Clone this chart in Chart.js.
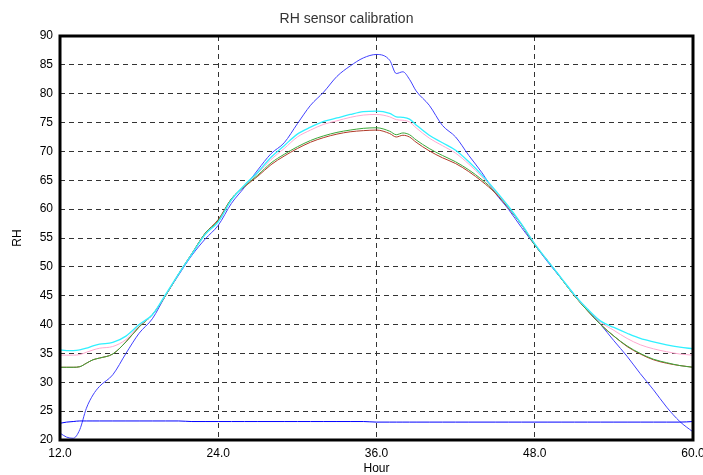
<!DOCTYPE html>
<html>
<head>
<meta charset="utf-8">
<script src="https://cdn.jsdelivr.net/npm/chart.js@4"></script>
<style>
  body { margin: 0; background: #fff; }
  #wrap { width: 703px; height: 475px; }
</style>
</head>
<body>
<div id="wrap"><canvas id="rh"></canvas></div>
<script>
// hours since start, shared by every trace
const hours = [12, 12.5, 13, 13.5, 14, 14.5, 15, 16, 17, 18, 19, 20, 21, 22, 23, 24, 25, 26, 27, 28, 29, 30,
  31, 32, 33, 34, 35, 36, 37, 37.5, 38, 38.5, 39, 40, 41, 42, 43, 44, 45, 46, 47, 48, 49, 50,
  51, 52, 53, 54, 55, 56, 57, 58, 59, 60];

const rawSensor = [21.2, 20.5, 20.3, 21.8, 25.5, 27.8, 29.3, 31.3, 35.0, 38.5, 41.0, 45.0, 48.6, 52.0, 54.8, 57.2, 61.0, 63.8, 66.8, 69.6, 71.5, 74.8,
  78.0, 80.3, 83.0, 84.8, 86.2, 86.8, 85.8, 83.5, 83.8, 82.5, 80.5, 78.0, 74.5, 72.5, 69.3, 66.3, 62.8, 60.0, 56.8, 53.8, 50.8, 48.0,
  45.2, 42.5, 40.0, 37.2, 34.5, 31.5, 28.7, 25.7, 23.2, 21.4];

const cyanTrace = [35.6, 35.5, 35.5, 35.6, 35.9, 36.3, 36.6, 36.9, 38.0, 40.0, 41.7, 45.2, 48.8, 52.2, 55.6, 57.8, 61.6, 64.2, 66.4, 69.0, 71.0, 73.0,
  74.2, 75.2, 75.8, 76.4, 76.9, 77.0, 76.6, 76.0, 75.9, 75.6, 74.6, 72.8, 71.5, 70.2, 68.2, 65.9, 63.3, 60.5, 57.4, 54.0, 51.0, 48.1,
  45.2, 42.7, 40.6, 39.5, 38.5, 37.6, 37.0, 36.5, 36.1, 35.8];

const pinkTrace = [34.7, 34.7, 34.7, 34.8, 35.2, 35.6, 35.9, 36.2, 37.4, 39.8, 41.7, 45.1, 48.8, 52.2, 55.6, 57.8, 61.6, 64.1, 66.2, 68.6, 70.5, 72.5,
  73.7, 74.7, 75.3, 75.9, 76.3, 76.4, 76.0, 75.5, 75.4, 75.1, 74.1, 72.3, 71.0, 69.7, 67.8, 65.6, 63.1, 60.4, 57.4, 54.0, 51.0, 48.1,
  45.1, 42.6, 40.4, 39.0, 37.6, 36.5, 35.8, 35.3, 34.9, 34.7];

const greenTrace = [32.6, 32.6, 32.6, 32.7, 33.3, 33.9, 34.2, 34.9, 37.0, 39.6, 41.7, 45.0, 48.8, 52.3, 55.8, 58.0, 61.8, 64.0, 65.9, 68.0, 69.5, 70.8,
  71.9, 72.7, 73.3, 73.7, 74.0, 74.1, 73.5, 72.9, 73.2, 72.9, 72.0, 70.5, 69.3, 68.2, 66.8, 65.1, 63.0, 60.3, 57.3, 53.8, 51.0, 48.0,
  45.0, 42.4, 40.0, 38.0, 36.3, 35.0, 34.0, 33.4, 32.9, 32.6];

const redTrace = [32.6, 32.6, 32.6, 32.7, 33.3, 33.9, 34.2, 34.9, 37.0, 39.6, 41.7, 45.0, 48.8, 52.3, 55.8, 58.2, 61.8, 63.9, 65.7, 67.7, 69.2, 70.5,
  71.6, 72.4, 73.0, 73.4, 73.6, 73.7, 73.1, 72.5, 72.8, 72.5, 71.6, 70.1, 68.9, 67.9, 66.5, 64.8, 62.8, 60.2, 57.3, 53.8, 51.0, 48.0,
  45.0, 42.4, 40.0, 38.0, 36.2, 34.9, 33.9, 33.3, 32.9, 32.6];

const chamberRef = [22.9, 23.1, 23.2, 23.3, 23.3, 23.3, 23.3, 23.3, 23.3, 23.3, 23.3, 23.3, 23.3, 23.2, 23.2, 23.2, 23.2, 23.2, 23.2, 23.2, 23.2, 23.2,
  23.2, 23.2, 23.2, 23.2, 23.2, 23.1, 23.1, 23.1, 23.1, 23.1, 23.1, 23.1, 23.1, 23.1, 23.1, 23.1, 23.1, 23.1, 23.1, 23.1, 23.1, 23.1,
  23.1, 23.1, 23.1, 23.1, 23.1, 23.1, 23.1, 23.1, 23.1, 23.2];

function pts(arr) {
  return hours.map((h, i) => ({x: h, y: arr[i]}));
}

function trace(vals, colour, w) {
  return {
    data: pts(vals),
    borderColor: colour,
    borderWidth: w || 1,
    pointRadius: 0,
    cubicInterpolationMode: 'monotone',
    fill: false
  };
}

// thick black frame round the plot
const frame = {
  id: 'frame',
  afterDraw(chart) {
    const a = chart.chartArea;
    const ctx = chart.ctx;
    ctx.save();
    ctx.strokeStyle = '#000';
    ctx.lineWidth = 3;
    ctx.strokeRect(a.left, a.top, a.right - a.left, a.bottom - a.top);
    ctx.restore();
  }
};

const font = {family: 'Liberation Sans, Arial, sans-serif', size: 12};

new Chart(document.getElementById('rh'), {
  type: 'line',
  data: {
    datasets: [
      trace(chamberRef, '#0000ff'),
      trace(cyanTrace, '#30f0ff', 1.3),
      trace(pinkTrace, '#ffa8d0'),
      trace(greenTrace, '#3aa83a'),
      trace(redTrace, '#b03a28'),
      trace(rawSensor, '#4040ff')
    ]
  },
  options: {
    responsive: true,
    maintainAspectRatio: false,
    animation: false,
    layout: {padding: {left: 0, right: 10, top: 0, bottom: 0}},
    plugins: {
      legend: {display: false},
      tooltip: {enabled: false},
      title: {
        display: true,
        text: 'RH sensor calibration',
        color: '#333',
        font: {family: font.family, size: 14, weight: 'normal'},
        padding: {top: 11, bottom: 8.2}
      }
    },
    scales: {
      x: {
        type: 'linear',
        min: 12,
        max: 60,
        afterFit(s) { s.height = 35; s.paddingLeft = 0; s.paddingRight = 0; },
        ticks: {
          stepSize: 12,
          padding: 6,
          color: '#000',
          font: font,
          maxRotation: 0,
          callback: v => v.toFixed(1)
        },
        grid: {color: '#333', drawTicks: false},
        border: {display: false, dash: [5, 4]},
        title: {display: true, text: 'Hour', color: '#000', font: font, padding: {top: 0, bottom: -1}}
      },
      y: {
        min: 20,
        max: 90,
        afterFit(s) { s.width = 60; s.paddingTop = 0; s.paddingBottom = 0; },
        ticks: {stepSize: 5, padding: 7, color: '#000', font: font},
        grid: {color: '#333', drawTicks: false},
        border: {display: false, dash: [5, 4]},
        title: {display: true, text: 'RH', color: '#000', font: font, padding: {top: 10, bottom: 0}}
      }
    }
  },
  plugins: [frame]
});
</script>
</body>
</html>
